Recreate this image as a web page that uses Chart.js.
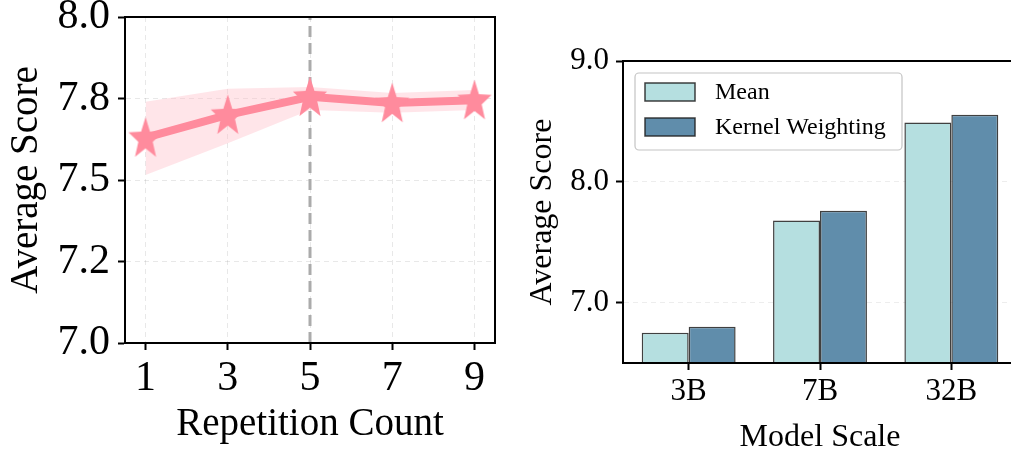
<!DOCTYPE html>
<html>
<head>
<meta charset="utf-8">
<script src="https://cdn.jsdelivr.net/npm/chart.js@4/dist/chart.umd.min.js"></script>
<style>
    html, body {
        margin: 0;
        padding: 0;
        background: #ffffff;
        width: 1011px;
        height: 450px;
        overflow: hidden;
        position: relative;
    }
    #leftChart {
        position: absolute;
        left: 0;
        top: 0;
    }
    #rightChart {
        position: absolute;
        left: 515px;
        top: 0;
    }
</style>
</head>
<body>
<canvas id="leftChart" width="510" height="450"></canvas>
<canvas id="rightChart" width="515" height="450"></canvas>
<script>
// Left panel: repetition count sweep
const repetitionCounts = [1, 3, 5, 7, 9];
const repetitionScores = [7.63, 7.70, 7.755, 7.736, 7.745];
const repetitionUpper = [7.74, 7.78, 7.785, 7.767, 7.776];
const repetitionLower = [7.515, 7.613, 7.715, 7.706, 7.715];
const chosenRepetition = 5;
const leftYTicks = [7.0, 7.25, 7.5, 7.75, 8.0];
const leftYTickLabels = ['7.0', '7.2', '7.5', '7.8', '8.0'];

// Right panel: model scale comparison
const modelScales = ['3B', '7B', '32B'];
const meanScores = [6.75, 7.68, 8.49];
const kernelScores = [6.80, 7.76, 8.555];
const rightYTicks = [7.0, 8.0, 9.0];

const SERIF = '"Liberation Serif", "DejaVu Serif", serif';
const PINK = '#FF8B9D';
const GRID = 'rgba(0, 0, 0, 0.09)';

function starImage(color) {
    const w = 36, h = 42;
    const c = document.createElement('canvas');
    c.width = w;
    c.height = h;
    const ctx = c.getContext('2d');
    const cx = w / 2, cy = 22.5;
    const rx = 18, ry = 22;
    ctx.beginPath();
    for (let i = 0; i < 10; i++) {
        const r = i % 2 === 0 ? 1 : 0.42;
        const a = -Math.PI / 2 + i * Math.PI / 5;
        const px = cx + Math.cos(a) * rx * r;
        const py = cy + Math.sin(a) * ry * r;
        if (i === 0) ctx.moveTo(px, py); else ctx.lineTo(px, py);
    }
    ctx.closePath();
    ctx.fillStyle = color;
    ctx.fill();
    return c;
}

// keep chart areas exactly where the layout puts them
function noPad(scale) {
    scale.paddingTop = 0;
    scale.paddingBottom = 0;
    scale.paddingLeft = 0;
    scale.paddingRight = 0;
}

const frame = {
    id: 'frame',
    afterDraw(chart) {
        const a = chart.chartArea;
        const ctx = chart.ctx;
        ctx.save();
        ctx.strokeStyle = '#000000';
        ctx.lineWidth = 2;
        ctx.strokeRect(a.left, a.top, a.right - a.left, a.bottom - a.top);
        ctx.restore();
    }
};

const boxLegend = {
    id: 'boxLegend',
    afterDraw(chart) {
        const a = chart.chartArea;
        const ctx = chart.ctx;
        const x = a.left + 12, y = a.top + 12, w = 267, h = 77;
        ctx.save();
        ctx.beginPath();
        ctx.roundRect(x, y, w, h, 4);
        ctx.fillStyle = 'rgba(255,255,255,0.85)';
        ctx.fill();
        ctx.strokeStyle = '#c4c4c4';
        ctx.lineWidth = 1.2;
        ctx.stroke();
        ctx.font = '24px ' + SERIF;
        ctx.textBaseline = 'middle';
        chart.data.datasets.forEach((ds, i) => {
            const cy = y + 19 + i * 35;
            ctx.fillStyle = ds.backgroundColor;
            ctx.fillRect(x + 10, cy - 9, 50, 18);
            ctx.strokeStyle = ds.borderColor;
            ctx.lineWidth = 1.5;
            ctx.strokeRect(x + 10, cy - 9, 50, 18);
            ctx.fillStyle = '#000000';
            ctx.fillText(ds.label, x + 80, cy + 1);
        });
        ctx.restore();
    }
};

new Chart(document.getElementById('leftChart'), {
    type: 'line',
    data: {
        datasets: [
            {
                label: 'Score',
                data: repetitionCounts.map((x, i) => ({x: x, y: repetitionScores[i]})),
                borderColor: PINK,
                backgroundColor: PINK,
                borderWidth: 8,
                tension: 0,
                pointStyle: starImage(PINK),
                pointRadius: 18,
                clip: false,
                fill: false
            },
            {
                label: 'Chosen',
                data: [{x: chosenRepetition, y: leftYTicks[0]}, {x: chosenRepetition, y: leftYTicks[leftYTicks.length - 1]}],
                borderColor: '#ababab',
                borderWidth: 3,
                borderDash: [11, 6],
                pointRadius: 0,
                fill: false
            },
            {
                label: 'Upper',
                data: repetitionCounts.map((x, i) => ({x: x, y: repetitionUpper[i]})),
                borderColor: 'rgba(0,0,0,0)',
                borderWidth: 0,
                backgroundColor: 'rgba(255, 182, 193, 0.36)',
                pointRadius: 0,
                fill: '+1'
            },
            {
                label: 'Lower',
                data: repetitionCounts.map((x, i) => ({x: x, y: repetitionLower[i]})),
                borderColor: 'rgba(0,0,0,0)',
                borderWidth: 0,
                pointRadius: 0,
                fill: false
            }
        ]
    },
    options: {
        responsive: false,
        animation: false,
        layout: {autoPadding: false, padding: {top: 17, right: 15, left: 0, bottom: 0}},
        plugins: {legend: {display: false}, tooltip: {enabled: false}},
        scales: {
            x: {
                type: 'linear',
                min: 0.5,
                max: 9.5,
                afterBuildTicks: scale => { scale.ticks = repetitionCounts.map(v => ({value: v})); },
                afterFit: scale => { scale.height = 107; noPad(scale); },
                ticks: {
                    color: '#000000',
                    font: {family: SERIF, size: 42},
                    padding: 4,
                    maxRotation: 0
                },
                grid: {color: GRID, lineWidth: 1, tickColor: '#000000', tickWidth: 2, tickLength: 7},
                border: {color: '#000000', width: 2, dash: [5, 4]},
                title: {
                    display: true,
                    text: 'Repetition Count',
                    color: '#000000',
                    font: {family: SERIF, size: 39, lineHeight: 1},
                    padding: {top: 0, bottom: 6}
                }
            },
            y: {
                min: 7.0,
                max: 8.0,
                afterBuildTicks: scale => { scale.ticks = leftYTicks.map(v => ({value: v})); },
                afterFit: scale => { scale.width = 125; noPad(scale); },
                ticks: {
                    color: '#000000',
                    font: {family: SERIF, size: 42},
                    padding: 8,
                    callback: (v, i) => leftYTickLabels[i]
                },
                grid: {color: GRID, lineWidth: 1, tickColor: '#000000', tickWidth: 2, tickLength: 7},
                border: {color: '#000000', width: 2, dash: [5, 4]},
                title: {
                    display: true,
                    text: 'Average Score',
                    color: '#000000',
                    font: {family: SERIF, size: 39, lineHeight: 1},
                    padding: {top: 7, bottom: 0}
                }
            }
        }
    },
    plugins: [frame]
});

new Chart(document.getElementById('rightChart'), {
    type: 'bar',
    data: {
        labels: modelScales,
        datasets: [
            {
                label: 'Mean',
                data: meanScores,
                backgroundColor: '#B5DFE0',
                borderColor: 'rgba(30,30,30,0.85)',
                borderWidth: 1.5,
                borderSkipped: false,
                barPercentage: 1.0,
                categoryPercentage: 0.715
            },
            {
                label: 'Kernel Weighting',
                data: kernelScores,
                backgroundColor: '#608DAB',
                borderColor: 'rgba(30,30,30,0.85)',
                borderWidth: 1.5,
                borderSkipped: false,
                barPercentage: 1.0,
                categoryPercentage: 0.715
            }
        ]
    },
    options: {
        responsive: false,
        animation: false,
        layout: {autoPadding: false, padding: {top: 61, right: 13, left: 0, bottom: 0}},
        plugins: {legend: {display: false}, tooltip: {enabled: false}},
        scales: {
            x: {
                afterFit: scale => { scale.height = 87; noPad(scale); },
                ticks: {
                    color: '#000000',
                    font: {family: SERIF, size: 31},
                    padding: 3,
                    maxRotation: 0
                },
                grid: {display: true, offset: false, drawOnChartArea: false, tickColor: '#000000', tickWidth: 2, tickLength: 7},
                border: {color: '#000000', width: 2},
                title: {
                    display: true,
                    text: 'Model Scale',
                    color: '#000000',
                    font: {family: SERIF, size: 32, lineHeight: 0.8},
                    padding: {top: 0, bottom: 0}
                }
            },
            y: {
                min: 6.5,
                max: 9.0,
                afterBuildTicks: scale => { scale.ticks = rightYTicks.map(v => ({value: v})); },
                afterFit: scale => { scale.width = 108; noPad(scale); },
                ticks: {
                    color: '#000000',
                    font: {family: SERIF, size: 31},
                    padding: 7,
                    callback: v => v.toFixed(1)
                },
                grid: {color: 'rgba(0,0,0,0.07)', lineWidth: 1, tickColor: '#000000', tickWidth: 2, tickLength: 7},
                border: {color: '#000000', width: 2, dash: [5, 4]},
                title: {
                    display: true,
                    text: 'Average Score',
                    color: '#000000',
                    font: {family: SERIF, size: 32, lineHeight: 1},
                    padding: {top: 12, bottom: 0}
                }
            }
        }
    },
    plugins: [frame, boxLegend]
});
</script>
</body>
</html>
